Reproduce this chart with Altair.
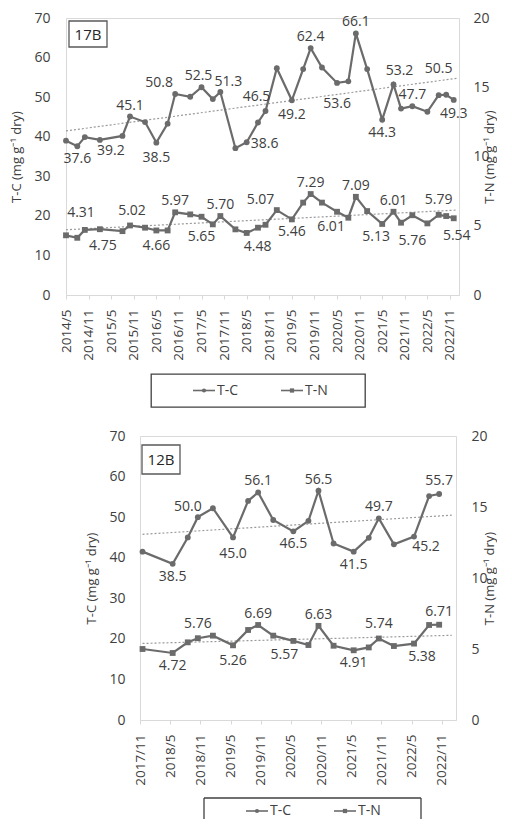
import altair as alt
import pandas as pd

# ---------------- data ----------------
dates_17B = ["2014/5", "2014/8", "2014/10", "2015/2", "2015/8", "2015/10", "2016/2", "2016/5",
             "2016/8", "2016/10", "2017/2", "2017/5", "2017/8", "2017/10", "2018/2", "2018/5",
             "2018/8", "2018/10", "2019/1", "2019/5", "2019/8", "2019/10", "2020/1", "2020/5",
             "2020/8", "2020/10", "2021/1", "2021/5", "2021/8", "2021/10", "2022/1", "2022/5",
             "2022/8", "2022/10", "2022/12"]
tc_17B = [39.0, 37.6, 39.9, 39.2, 40.2, 45.1, 43.7, 38.5, 43.3, 50.8, 50.1, 52.5, 49.5, 51.3,
          37.1, 38.6, 43.6, 46.5, 57.3, 49.2, 57.1, 62.4, 57.5, 53.6, 54.0, 66.1, 57.1, 44.3,
          53.2, 47.1, 47.7, 46.3, 50.5, 50.6, 49.3]
tn_17B = [4.31, 4.13, 4.70, 4.75, 4.61, 5.02, 4.86, 4.66, 4.66, 5.97, 5.82, 5.65, 5.10, 5.70,
          4.74, 4.48, 4.86, 5.07, 6.13, 5.46, 6.67, 7.29, 6.67, 6.01, 5.58, 7.09, 6.06, 5.13,
          6.01, 5.22, 5.76, 5.17, 5.79, 5.70, 5.54]
tc_17B_above = ["2015/10", "2016/10", "2017/5", "2017/10", "2018/10", "2019/10", "2020/10",
                "2021/8", "2022/1", "2022/8"]
tc_17B_below = ["2014/8", "2015/2", "2016/5", "2018/5", "2019/5", "2020/5", "2021/5", "2022/12"]
tn_17B_above = ["2014/5", "2015/10", "2016/10", "2017/10", "2018/10", "2019/10", "2020/10",
                "2021/8", "2022/8"]
tn_17B_below = ["2015/2", "2016/5", "2017/5", "2018/5", "2019/5", "2020/5", "2021/5",
                "2022/1", "2022/12"]

dates_12B = ["2017/11", "2018/5", "2018/8", "2018/10", "2019/1", "2019/5", "2019/8", "2019/10",
             "2020/1", "2020/5", "2020/8", "2020/10", "2021/1", "2021/5", "2021/8", "2021/10",
             "2022/1", "2022/5", "2022/8", "2022/10"]
tc_12B = [41.5, 38.5, 45.0, 50.0, 52.2, 45.0, 54.0, 56.1, 49.3, 46.5, 49.1, 56.5, 43.5, 41.5,
          44.9, 49.7, 43.3, 45.2, 55.2, 55.7]
tn_12B = [5.00, 4.72, 5.47, 5.76, 5.94, 5.26, 6.34, 6.69, 5.94, 5.57, 5.28, 6.63, 5.23, 4.91,
          5.11, 5.74, 5.21, 5.38, 6.69, 6.71]
tc_12B_above = ["2018/10", "2019/10", "2020/10", "2021/10", "2022/10"]
tc_12B_below = ["2018/5", "2019/5", "2020/5", "2021/5", "2022/5"]
tn_12B_above = ["2018/10", "2019/10", "2020/10", "2021/10", "2022/10"]
tn_12B_below = ["2018/5", "2019/5", "2020/5", "2021/5", "2022/5"]

series_names = ["T-C", "T-N"]
tc_title = "T-C (mg g⁻¹ dry)"
tn_title = "T-N (mg g⁻¹ dry)"

# ---------------- style ----------------
FONT = "Open Sans"
LINE = "#6b6b6b"
TXT = "#404040"
FRAME = "#d9d9d9"
TREND = "#9a9a9a"
ABOVE_DY, BELOW_DY = -11, 13

# label placement tweaks (pixel dx, dy) to reproduce the original label layout
label_nudge = {
    ("17B", "tc", "2015/2"): (11, 11), ("17B", "tc", "2016/5"): (0, 15),
    ("17B", "tc", "2016/10"): (-16, -11), ("17B", "tc", "2017/5"): (-3, -11),
    ("17B", "tc", "2017/10"): (8, -10), ("17B", "tc", "2018/5"): (18, 2),
    ("17B", "tc", "2018/10"): (-9, -14), ("17B", "tc", "2019/5"): (0, 15),
    ("17B", "tc", "2020/5"): (0, 21), ("17B", "tc", "2021/8"): (6, -13),
    ("17B", "tc", "2022/8"): (0, -26), ("17B", "tc", "2022/12"): (0, 14),
    ("17B", "tn", "2014/5"): (15, -22), ("17B", "tn", "2015/2"): (3, 17),
    ("17B", "tn", "2015/10"): (2, -14), ("17B", "tn", "2016/5"): (0, 16),
    ("17B", "tn", "2017/5"): (0, 20), ("17B", "tn", "2018/5"): (11, 14),
    ("17B", "tn", "2018/10"): (-5, -25), ("17B", "tn", "2020/5"): (-6, 15),
    ("17B", "tn", "2021/5"): (-6, 13), ("17B", "tn", "2022/1"): (0, 26),
    ("17B", "tn", "2022/8"): (0, -15), ("17B", "tn", "2022/12"): (3, 18),
    ("12B", "tc", "2018/10"): (-10, -10), ("12B", "tc", "2019/5"): (0, 17),
    ("12B", "tc", "2022/5"): (12, 10), ("12B", "tc", "2022/10"): (0, -13),
    ("12B", "tn", "2018/10"): (0, -14), ("12B", "tn", "2019/5"): (0, 16),
    ("12B", "tn", "2020/5"): (-9, 14), ("12B", "tn", "2021/10"): (0, -14),
    ("12B", "tn", "2022/5"): (8, 13), ("12B", "tn", "2022/10"): (0, -13),
}


def months_since(dates, start):
    sy, sm = map(int, start.split("/"))
    out = []
    for d in dates:
        y, m = map(int, d.split("/"))
        out.append((y - sy) * 12 + (m - sm))
    return out


def build_df(tag, dates, start, tc, tn, tca, tcb, tna, tnb):
    df = pd.DataFrame({"date": dates, "tc": tc, "tn": tn})
    df["m"] = months_since(dates, start)
    for key, above, below in (("tc", tca, tcb), ("tn", tna, tnb)):
        pos, dx, dy = [], [], []
        for d in dates:
            p = "above" if d in above else ("below" if d in below else "")
            ddx, ddy = label_nudge.get((tag, key, d),
                                       (0, ABOVE_DY if p == "above" else BELOW_DY))
            pos.append(p)
            dx.append(ddx)
            dy.append(ddy)
        df[key + "_pos"] = pos
        df[key + "_dx"] = dx
        df[key + "_dy"] = dy
    return df


def panel(df, start, x_lo, x_hi, tick_shift, tick_max, width, height, tag, reg_extent,
          tag_box, pad_l, pad_r, title_pad_r):
    sy, sm = map(int, start.split("/"))
    v = f"round(datum.value + {tick_shift})"
    label_expr = (f"toString({sy} + floor(({v} + {sm - 1}) / 12)) + '/' + "
                  f"toString((({v} + {sm - 1}) % 12) + 1)")
    x_enc = alt.X("m:Q", title=None,
                  scale=alt.Scale(domain=[x_lo, x_hi], nice=False, zero=False),
                  axis=alt.Axis(values=[k - tick_shift for k in range(0, tick_max + 1, 6)],
                                labelExpr=label_expr, labelAngle=270, labelFont=FONT,
                                labelFontSize=13.5, labelColor=TXT, labelPadding=10,
                                tickSize=4, tickColor=FRAME, domainColor=FRAME, grid=False,
                                labelOverlap=False))
    y_tc = alt.Y("tc:Q", scale=alt.Scale(domain=[0, 70], nice=False),
                 axis=alt.Axis(values=[0, 10, 20, 30, 40, 50, 60, 70], orient="left",
                               title=tc_title, titleFont=FONT, titleFontSize=13,
                               titleFontWeight="normal", titleColor=TXT, titlePadding=10,
                               labelFont=FONT, labelFontSize=14, labelColor=TXT,
                               labelPadding=pad_l, ticks=False, domain=False, grid=False))
    y_tn = alt.Y("tn:Q", scale=alt.Scale(domain=[0, 20], nice=False),
                 axis=alt.Axis(values=[0, 5, 10, 15, 20], orient="right",
                               title=tn_title, titleFont=FONT, titleFontSize=13,
                               titleFontWeight="normal", titleColor=TXT, titleAngle=270,
                               titlePadding=title_pad_r,
                               labelFont=FONT, labelFontSize=14, labelColor=TXT,
                               labelPadding=pad_r, ticks=False, domain=False, grid=False))

    base = alt.Chart(df)

    def group(field, y_enc, shape, fmt):
        trend = base.transform_regression("m", field, extent=reg_extent).mark_line(
            color=TREND, strokeWidth=1.2, strokeDash=[2, 2]).encode(x=x_enc, y=y_enc)
        line = base.mark_line(color=LINE, strokeWidth=2.2).encode(x=x_enc, y=y_enc)
        pts = base.mark_point(shape=shape, filled=True, size=34, color=LINE, opacity=1).encode(
            x=x_enc, y=y_enc)
        labels = base.transform_filter(alt.datum[field + "_pos"] != "").mark_text(
            font=FONT, fontSize=14, color=TXT, baseline="middle",
            dx=alt.expr(f"datum.{field}_dx"), dy=alt.expr(f"datum.{field}_dy")).encode(
            x=x_enc, y=y_enc, text=alt.Text(f"{field}:Q", format=fmt))
        return alt.layer(trend, line, pts, labels)

    tc_group = group("tc", y_tc, "circle", ".1f")
    tn_group = group("tn", y_tn, "square", ".2f")

    bx0, bx1, by0, by1 = tag_box
    tag_df = pd.DataFrame({"tag": [tag]})
    tag_rect = alt.Chart(tag_df).mark_rect(fill="white", stroke="#595959", strokeWidth=1.3).encode(
        x=alt.value(bx0), x2=alt.value(bx1), y=alt.value(by0), y2=alt.value(by1))
    tag_text = alt.Chart(tag_df).mark_text(font=FONT, fontSize=15, color="#262626",
                                           baseline="middle").encode(
        x=alt.value((bx0 + bx1) / 2), y=alt.value((by0 + by1) / 2 + 0.5), text="tag:N")

    return alt.layer(tc_group, tn_group, tag_rect, tag_text).resolve_scale(y="independent").properties(
        width=width, height=height, view=alt.ViewBackground(stroke=FRAME, strokeWidth=1))


def legend_box(width, height, items_y, open_bottom=False, edge_len=None):
    ldf = pd.DataFrame({"item": series_names, "shape": ["circle", "square"]})
    x_enc = alt.X("item:N", axis=None,
                  scale=alt.Scale(type="point", domain=series_names, range=[53, 141], padding=0))
    y_val = alt.value(items_y)
    rule = alt.Chart(ldf).mark_rule(color=LINE, strokeWidth=1.6, xOffset=-11, x2Offset=11).encode(
        x=x_enc, x2="item:N", y=y_val)
    pts = alt.Chart(ldf).mark_point(filled=True, size=18, color=LINE, opacity=1).encode(
        x=x_enc, y=y_val, shape=alt.Shape("shape:N", scale=None, legend=None))
    txt = alt.Chart(ldf).mark_text(font=FONT, fontSize=14, color=TXT, align="left",
                                   baseline="middle", dx=13).encode(
        x=x_enc, y=y_val, text="item:N")
    layers = [rule, pts, txt]
    if open_bottom:
        # frame whose lower edge lies below the page edge (only three sides visible)
        fdf = pd.DataFrame({"k": [0]})
        edge = dict(color="#404040", strokeWidth=1.3)
        layers += [
            alt.Chart(fdf).mark_rule(**edge).encode(x=alt.value(0), x2=alt.value(width), y=alt.value(0)),
            alt.Chart(fdf).mark_rule(**edge).encode(x=alt.value(0), y=alt.value(0), y2=alt.value(edge_len)),
            alt.Chart(fdf).mark_rule(**edge).encode(x=alt.value(width), y=alt.value(0), y2=alt.value(edge_len)),
        ]
        view = alt.ViewBackground(stroke="transparent")
    else:
        view = alt.ViewBackground(stroke="#404040", strokeWidth=1.3)
    return alt.layer(*layers).properties(width=width, height=height, view=view)


def spacer(width):
    sdf = pd.DataFrame({"a": [0]})
    return alt.Chart(sdf).mark_point(opacity=0, size=1).encode(
        x=alt.value(0), y=alt.value(0)).properties(
        width=width, height=2, view=alt.ViewBackground(stroke="transparent"))


df17 = build_df("17B", dates_17B, "2014/5", tc_17B, tn_17B, tc_17B_above, tc_17B_below,
                tn_17B_above, tn_17B_below)
df12 = build_df("12B", dates_12B, "2017/11", tc_12B, tn_12B, tc_12B_above, tc_12B_below,
                tn_12B_above, tn_12B_below)

p17 = panel(df17, "2014/5", 0, 104.4, 0, 102, 393, 277, "17B", [0, 104], (3, 41, 3, 29),
            16, 14, 7)
p12 = panel(df12, "2017/11", -0.5, 62.35, 0.5, 60, 316, 284, "12B", [0, 61.5], (2, 40, 9, 38),
            15, 15, 9)

top = alt.vconcat(p17, alt.hconcat(spacer(83), legend_box(214, 33, 16.5), spacing=0), spacing=12)
bottom = alt.vconcat(alt.hconcat(spacer(18), p12, spacing=0),
                     alt.hconcat(spacer(135), legend_box(217, 14, 13, open_bottom=True, edge_len=21),
                                 spacing=0), spacing=10)

chart = alt.vconcat(top, bottom, spacing=20).properties(
    padding={"left": 2, "top": 2, "right": 0, "bottom": 0}
).configure_view(strokeWidth=1)

chart.save("out.html", embed_options={"renderer": "svg", "actions": False})
